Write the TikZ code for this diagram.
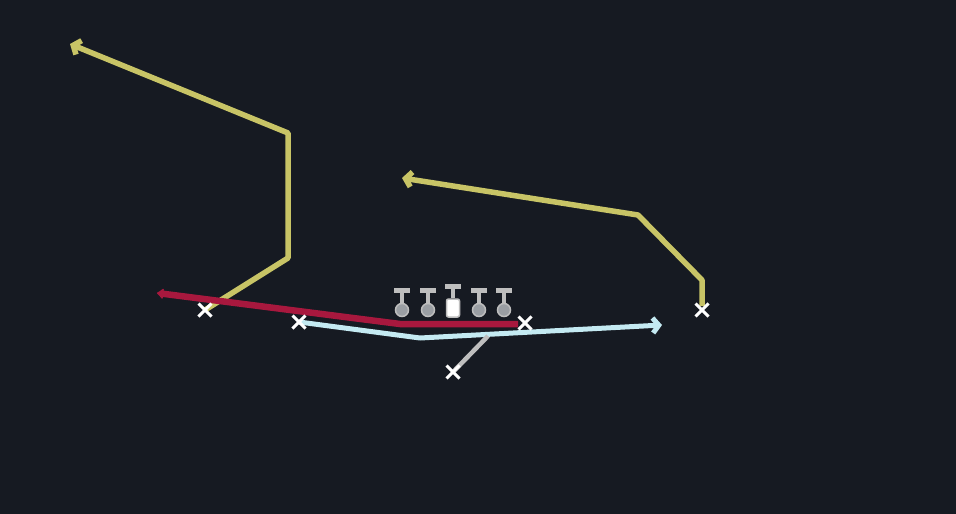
\documentclass[tikz,border=0pt]{standalone}
\usepackage{tikz}
\usepackage{xcolor}
\usetikzlibrary{arrows.meta,shapes.misc}

\definecolor{field}{HTML}{161A22}
\definecolor{routey}{HTML}{C8C466}
\definecolor{router}{HTML}{A8183E}
\definecolor{routeb}{HTML}{C4EAF2}
\definecolor{routeg}{HTML}{BEBEBE}
\definecolor{linegrey}{HTML}{9A9EA3}

\begin{document}
\begin{tikzpicture}[x=1pt, y=-1pt,
    player/.style={cross out, draw=white, line width=3pt, minimum size=10pt, inner sep=0pt},
    lineman/.style={circle, fill=linegrey, draw=routeg, line width=1.5pt, minimum size=13pt, inner sep=0pt},
    center/.style={rectangle, rounded corners=2pt, fill=white, draw=routeg, line width=1.5pt, minimum width=13pt, minimum height=18pt, inner sep=0pt},
    route/.style={line width=5.5pt, line join=round, -{Straight Barb[length=6pt,width=15pt]}}]

    \fill[field] (0,0) rectangle (956,514);
    \useasboundingbox (0,0) rectangle (956,514);

    % free ends of the routes
    \coordinate (y1a) at (288,258);
    \coordinate (y1b) at (288,133);
    \coordinate (y1e) at (70,44);
    \coordinate (y2a) at (702,280);
    \coordinate (y2b) at (638,215);
    \coordinate (y2e) at (402,178);
    \coordinate (ra) at (400,324);
    \coordinate (re) at (157,293);
    \coordinate (ba) at (420,338);
    \coordinate (be) at (662,325);
    \coordinate (ga) at (488,336);

    % line
    \foreach \n/\x in {lt/402, lg/428, rg/479, rt/504}
        \node[lineman] (\n) at (\x,310) {};
    \node[center] (c) at (453,308) {};
    \foreach \n in {lt, lg, c, rg, rt} {
        \draw[routeg, line width=4pt] (\n.north) -- ++(0,-12) coordinate (\n top);
        \draw[routeg, line width=5pt] ([xshift=-8pt]\n top) -- ([xshift=8pt]\n top);
    }

    % routes
    \draw[route, routey] (205,310) -- (y1a) -- (y1b) -- (y1e);
    \draw[route, routey] (702,306) -- (y2a) -- (y2b) -- (y2e);
    \draw[line width=6.5pt, line join=round, router, -{Latex[round, length=7pt, width=13pt]}] (518,324) -- (ra) -- (re);
    \draw[route, routeb, line width=5pt] (299,322) -- (ba) -- (be);
    \draw[routeg, line width=4.5pt] (453,372) -- (ga);

    % players
    \node[player] (wl) at (205,310) {};
    \node[player] (sl) at (299,322) {};
    \node[player] (qb) at (525,323) {};
    \node[player] (rb) at (453,372) {};
    \node[player] (wr) at (702,310) {};

\end{tikzpicture}
\end{document}
